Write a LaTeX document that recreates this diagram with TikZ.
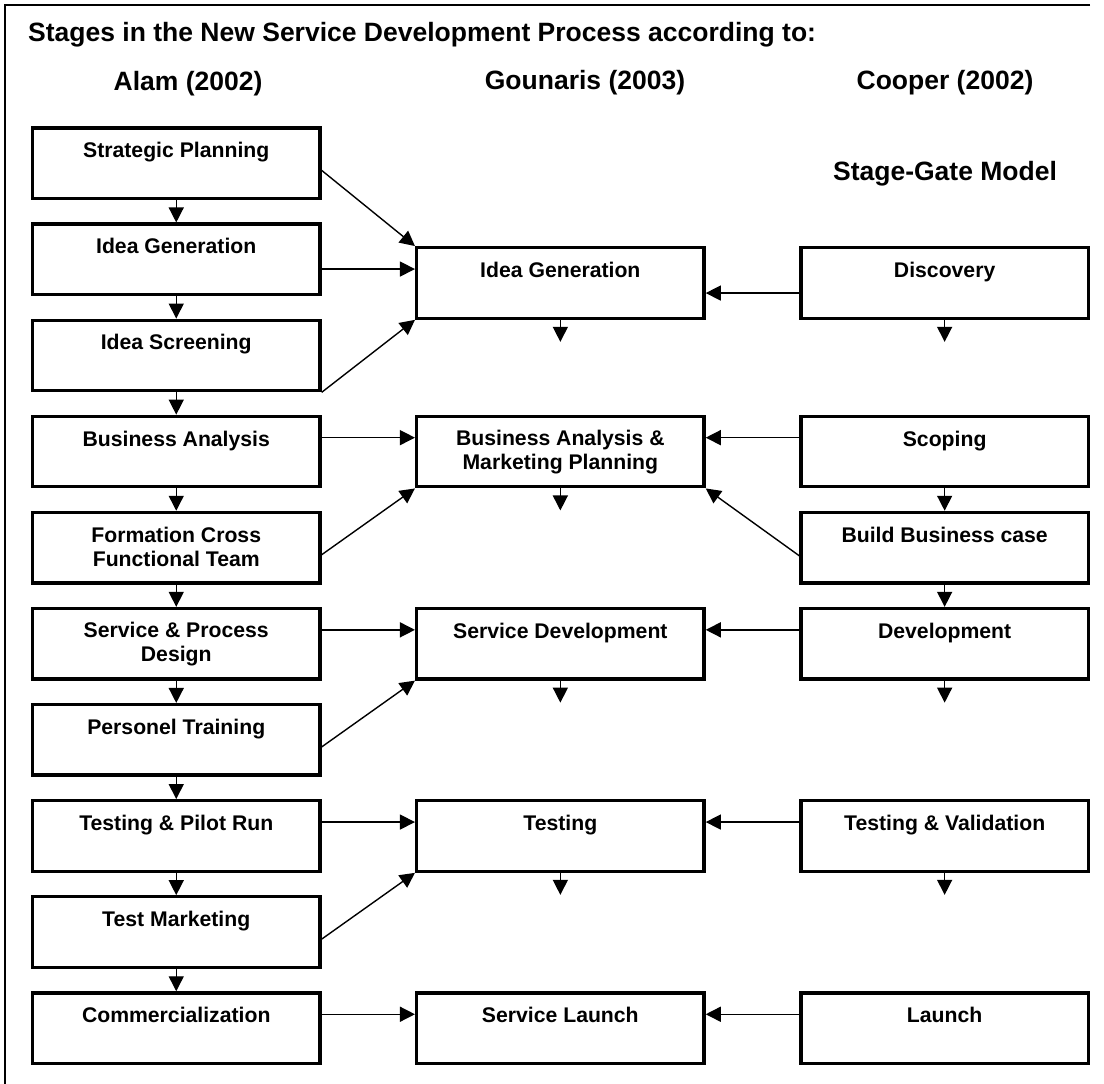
\documentclass[tikz,border=0pt]{standalone}
\usepackage{fontspec}
\setmainfont{Liberation Sans}
\usetikzlibrary{arrows.meta,calc}
% strut giving every line of a stage box the same height and depth
\newcommand\bxs{\rule[-2.5pt]{0pt}{18pt}}
\begin{document}
\begin{tikzpicture}[x=1pt,y=-1pt,
  stagebox/.style={draw, line width=3.3pt, minimum width=287.5pt, minimum height=70.5pt,
    inner sep=0pt, align=center, font=\fontsize{21.2}{24}\selectfont\bfseries},
  conn/.style={line width=1.4pt, -{Triangle[length=15pt,width=15pt]}},
  head/.style={font=\fontsize{26.5}{30}\selectfont\bfseries, inner sep=0pt}
]
\useasboundingbox (0,0) rectangle (1104,1084);
\fill[white] (0,0) rectangle (1104,1084);

% frame
\draw[line width=2pt] (1090,5) -- (5,5) -- (5,1084);

% headings
\node[head, anchor=base west] (title) at (28,41.7) {Stages in the New Service Development Process according to:};
\node[head, anchor=base] (alam) at (188,90) {Alam (2002)};
\node[head, anchor=base] (gou) at (585,89) {Gounaris (2003)};
\node[head, anchor=base] (coop) at (945,89) {Cooper (2002)};
\node[head, anchor=base] (sgm) at (945,180) {Stage-Gate Model};

% Alam (2002)
\node[stagebox] (a1) at (176.25,163.25) {\bxs Strategic Planning\\\bxs};
\node[stagebox] (a2) at (176.25,259.35) {\bxs Idea Generation\\\bxs};
\node[stagebox] (a3) at (176.25,355.45) {\bxs Idea Screening\\\bxs};
\node[stagebox] (a4) at (176.25,451.55) {\bxs Business Analysis\\\bxs};
\node[stagebox] (a5) at (176.25,547.65) {\bxs Formation Cross\\\bxs Functional Team};
\node[stagebox] (a6) at (176.25,643.75) {\bxs Service \& Process\\\bxs Design};
\node[stagebox] (a7) at (176.25,739.85) {\bxs Personel Training\\\bxs};
\node[stagebox] (a8) at (176.25,835.95) {\bxs Testing \& Pilot Run\\\bxs};
\node[stagebox] (a9) at (176.25,932.05) {\bxs Test Marketing\\\bxs};
\node[stagebox] (a10) at (176.25,1028.15) {\bxs Commercialization\\\bxs};

% Gounaris (2003)
\node[stagebox] (g1) at (560.35,282.95) {\bxs Idea Generation\\\bxs};
\node[stagebox] (g2) at (560.35,451.55) {\bxs Business Analysis \&\\\bxs Marketing Planning};
\node[stagebox] (g3) at (560.35,643.75) {\bxs Service Development\\\bxs};
\node[stagebox] (g4) at (560.35,835.95) {\bxs Testing\\\bxs};
\node[stagebox] (g5) at (560.35,1028.15) {\bxs Service Launch\\\bxs};

% Cooper (2002)
\node[stagebox] (c1) at (944.65,282.95) {\bxs Discovery\\\bxs};
\node[stagebox] (c2) at (944.65,451.55) {\bxs Scoping\\\bxs};
\node[stagebox] (c3) at (944.65,547.65) {\bxs Build Business case\\\bxs};
\node[stagebox] (c4) at (944.65,643.75) {\bxs Development\\\bxs};
\node[stagebox] (c5) at (944.65,835.95) {\bxs Testing \& Validation\\\bxs};
\node[stagebox] (c6) at (944.65,1028.15) {\bxs Launch\\\bxs};

% sequence within each model
\foreach \i/\j in {a1/a2,a2/a3,a3/a4,a4/a5,a5/a6,a6/a7,a7/a8,a8/a9,a9/a10,c2/c3,c3/c4}
  \draw[conn] (\i.south) -- (\j.north);
\foreach \i in {g1,g2,g3,g4,c1,c4,c5} {
  \coordinate (\i d) at ($(\i.south)+(0,22)$);
  \draw[conn] (\i.south) -- (\i d);
}

% Alam -> Gounaris
\draw[conn] ($(a1.north east)+(0,44)$) -- (g1.north west);
\coordinate (g1in) at ($(g1.north west)+(0,23)$);
\draw[conn] (g1in -| a2.east) -- (g1in);
\draw[conn] (a3.south east) -- (g1.south west);
\draw[conn] ($(a4.north east)+(0,23)$) -- ($(g2.north west)+(0,23)$);
\draw[conn] ($(a5.north east)+(0,44)$) -- (g2.south west);
\draw[conn] ($(a6.north east)+(0,23)$) -- ($(g3.north west)+(0,23)$);
\draw[conn] ($(a7.north east)+(0,44)$) -- (g3.south west);
\draw[conn] ($(a8.north east)+(0,23)$) -- ($(g4.north west)+(0,23)$);
\draw[conn] ($(a9.north east)+(0,44)$) -- (g4.south west);
\draw[conn] ($(a10.north east)+(0,23)$) -- ($(g5.north west)+(0,23)$);

% Cooper -> Gounaris
\coordinate (c1out) at ($(c1.north west)+(0,47)$);
\draw[conn] (c1out) -- (c1out -| g1.east);
\draw[conn] ($(c2.north west)+(0,23)$) -- ($(g2.north east)+(0,23)$);
\draw[conn] ($(c3.north west)+(0,45)$) -- (g2.south east);
\draw[conn] ($(c4.north west)+(0,23)$) -- ($(g3.north east)+(0,23)$);
\draw[conn] ($(c5.north west)+(0,23)$) -- ($(g4.north east)+(0,23)$);
\draw[conn] ($(c6.north west)+(0,23)$) -- ($(g5.north east)+(0,23)$);
\end{tikzpicture}
\end{document}
